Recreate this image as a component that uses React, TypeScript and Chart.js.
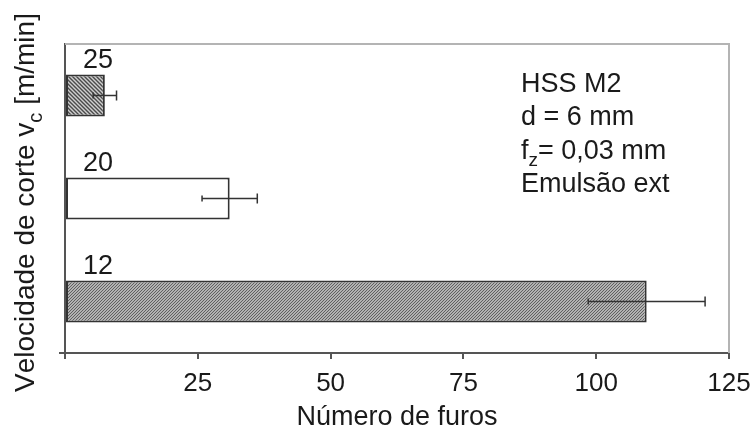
import React, { useEffect, useRef } from 'react';
import { Chart, registerables } from 'chart.js';

Chart.register(...registerables);

const categories = ['25', '20', '12'];
const holeCounts = [7.5, 31, 109.5];
const holeErrors = [2.2, 5.2, 11];
const xTicks = [0, 25, 50, 75, 100, 125];
const xTitle = 'Número de furos';
const yTitle = 'Velocidade de corte v_c [m/min]';
const infoLines = ['HSS M2', 'd = 6 mm', 'f_z= 0,03 mm', 'Emulsão ext'];

const FONT = '"Liberation Sans", Arial, sans-serif';
const TEXT = '#1a1a1a';

function makePattern(kind: 'back' | 'fwd'): CanvasPattern | string {
  const c = document.createElement('canvas');
  const s = kind === 'back' ? 4 : 3;
  c.width = s;
  c.height = s;
  const g = c.getContext('2d');
  if (!g) return '#aaa';
  g.fillStyle = kind === 'back' ? '#cfcfcf' : '#d6d6d6';
  g.fillRect(0, 0, s, s);
  g.strokeStyle = kind === 'back' ? '#4a4a4a' : '#5a5a5a';
  g.lineWidth = kind === 'back' ? 1.4 : 1.1;
  g.beginPath();
  if (kind === 'back') {
    g.moveTo(-1, -1); g.lineTo(s + 1, s + 1);
    g.moveTo(-1, s - 1); g.lineTo(1, s + 1);
    g.moveTo(s - 1, -1); g.lineTo(s + 1, 1);
  } else {
    g.moveTo(-1, s + 1); g.lineTo(s + 1, -1);
    g.moveTo(-1, 1); g.lineTo(1, -1);
    g.moveTo(s - 1, s + 1); g.lineTo(s + 1, s - 1);
  }
  g.stroke();
  const p = g.createPattern(c, 'repeat');
  return p || '#aaa';
}

function drawRich(ctx: CanvasRenderingContext2D, text: string, x: number, y: number, size: number) {
  let cx = x;
  for (let i = 0; i < text.length; i++) {
    const ch = text[i];
    if (ch === '_' && i + 1 < text.length) {
      const sub = text[i + 1];
      const ss = Math.round(size * 0.7);
      ctx.font = `${ss}px ${FONT}`;
      ctx.fillText(sub, cx, y + size * 0.28);
      cx += ctx.measureText(sub).width;
      i++;
    } else {
      ctx.font = `${size}px ${FONT}`;
      ctx.fillText(ch, cx, y);
      cx += ctx.measureText(ch).width;
    }
  }
  return cx - x;
}

function measureRich(ctx: CanvasRenderingContext2D, text: string, size: number) {
  let w = 0;
  for (let i = 0; i < text.length; i++) {
    const ch = text[i];
    if (ch === '_' && i + 1 < text.length) {
      ctx.font = `${Math.round(size * 0.7)}px ${FONT}`;
      w += ctx.measureText(text[i + 1]).width;
      i++;
    } else {
      ctx.font = `${size}px ${FONT}`;
      w += ctx.measureText(ch).width;
    }
  }
  return w;
}

const decorPlugin = {
  id: 'decor',
  beforeDatasetsDraw(chart: any) {
    const { ctx, chartArea } = chart;
    ctx.save();
    ctx.strokeStyle = '#b4b4b4';
    ctx.lineWidth = 2;
    ctx.beginPath();
    ctx.moveTo(chartArea.left, chartArea.top);
    ctx.lineTo(chartArea.right, chartArea.top);
    ctx.lineTo(chartArea.right, chartArea.bottom);
    ctx.stroke();
    // small axis extensions below/left of the origin
    ctx.strokeStyle = '#555';
    ctx.beginPath();
    ctx.moveTo(chartArea.left - 6, chartArea.bottom);
    ctx.lineTo(chartArea.left, chartArea.bottom);
    ctx.stroke();
    ctx.restore();
  },
  afterDatasetsDraw(chart: any) {
    const { ctx, chartArea, scales } = chart;
    const xs = scales.x;
    const ys = scales.y;
    const meta = chart.getDatasetMeta(0);
    ctx.save();
    // error bars
    ctx.strokeStyle = '#333';
    ctx.lineWidth = 1.5;
    holeCounts.forEach((v, i) => {
      const y = ys.getPixelForValue(i);
      const x1 = xs.getPixelForValue(v - holeErrors[i]);
      const x2 = xs.getPixelForValue(v + holeErrors[i]);
      ctx.beginPath();
      ctx.moveTo(x1, y);
      ctx.lineTo(x2, y);
      ctx.moveTo(x1, y - 3);
      ctx.lineTo(x1, y + 3);
      ctx.moveTo(x2, y - 5);
      ctx.lineTo(x2, y + 5);
      ctx.stroke();
    });
    // category labels above bars
    ctx.fillStyle = TEXT;
    ctx.font = `27px ${FONT}`;
    ctx.textBaseline = 'alphabetic';
    ctx.textAlign = 'left';
    categories.forEach((c, i) => {
      const el = meta.data[i];
      const top = el.y - el.height / 2;
      ctx.fillText(c, chartArea.left + 18, top - 6);
    });
    // info text
    infoLines.forEach((line, i) => {
      drawRich(ctx, line, chartArea.left + 456, chartArea.top + 48 + i * 33.3, 27);
    });
    ctx.restore();
  },
  afterDraw(chart: any) {
    const { ctx, chartArea } = chart;
    ctx.save();
    ctx.fillStyle = TEXT;
    ctx.textBaseline = 'alphabetic';
    ctx.textAlign = 'left';
    const size = 28;
    const w = measureRich(ctx, yTitle, size);
    const cy = (chartArea.top + chartArea.bottom) / 2 + 4;
    ctx.translate(34, cy);
    ctx.rotate(-Math.PI / 2);
    drawRich(ctx, yTitle, -w / 2, 0, size);
    ctx.restore();
  },
};

export default function App() {
  const ref = useRef<HTMLCanvasElement | null>(null);
  useEffect(() => {
    if (!ref.current) return;
    const patTop = makePattern('back');
    const patBottom = makePattern('fwd');
    const chart = new Chart(ref.current, {
      type: 'bar',
      data: {
        labels: categories,
        datasets: [
          {
            data: holeCounts,
            backgroundColor: [patTop, '#ffffff', patBottom] as any,
            borderColor: '#333333',
            borderWidth: 2,
            borderSkipped: false,
            barPercentage: 0.41,
            categoryPercentage: 1,
          },
        ],
      },
      options: {
        indexAxis: 'y',
        animation: false,
        responsive: false,
        maintainAspectRatio: false,
        layout: { padding: { left: 65, top: 44, right: 23, bottom: 0 } },
        plugins: {
          legend: { display: false },
          tooltip: { enabled: false },
        },
        scales: {
          x: {
            type: 'linear',
            min: 0,
            max: 125,
            afterBuildTicks: (s: any) => {
              s.ticks = xTicks.map((v) => ({ value: v }));
            },
            afterFit: (s: any) => {
              s.height = 95;
              s.paddingRight = 0;
              s.paddingLeft = 0;
            },
            ticks: {
              color: TEXT,
              font: { family: FONT, size: 26 },
              padding: 9,
              maxRotation: 0,
              callback: (v: any) => (Number(v) === 0 ? '' : String(v)),
            },
            grid: {
              display: true,
              drawOnChartArea: false,
              drawTicks: true,
              tickLength: 6,
              color: '#555',
              lineWidth: 2,
            },
            border: { display: true, color: '#555', width: 2 },
            title: {
              display: true,
              text: xTitle,
              color: TEXT,
              font: { family: FONT, size: 27 },
              padding: { top: 0, bottom: 14 },
            },
          },
          y: {
            type: 'category',
            afterFit: (s: any) => {
              s.width = 0;
            },
            ticks: { display: false },
            grid: { display: false },
            border: { display: true, color: '#555', width: 2 },
          },
        },
      },
      plugins: [decorPlugin],
    });
    return () => chart.destroy();
  }, []);
  return (
    <div style={{ position: 'fixed', left: 0, top: 0, width: 752, height: 448, background: '#fff' }}>
      <canvas ref={ref} width={752} height={448} style={{ display: 'block' }} />
    </div>
  );
}
